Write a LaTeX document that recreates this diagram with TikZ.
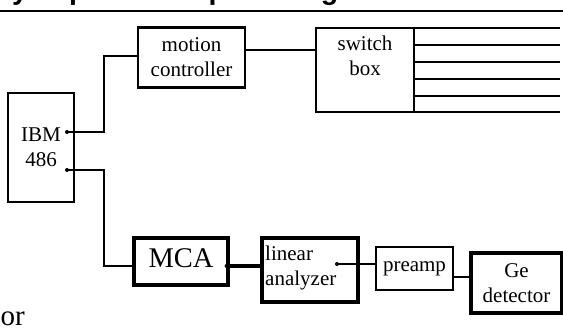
\documentclass[tikz,border=0pt]{standalone}
\usepackage{fontspec}
\setmainfont{Liberation Serif}
\setsansfont{Liberation Sans}

\begin{document}
\begin{tikzpicture}[x=1pt, y=-1pt,
		box_style/.style={draw=black,line width=2.2pt,inner sep=0pt,align=center,font=\fontsize{21}{25}\selectfont},
		heavy_style/.style={box_style,line width=3.2pt},
		text_style/.style={inner sep=0pt,align=center,font=\fontsize{21}{25}\selectfont},
		edge_style/.style={draw=black,line width=2.2pt},
		dot_style/.style={circle,fill=black,inner sep=0pt,minimum size=4pt}]

		\useasboundingbox (0,0) rectangle (563,328);
		\clip (0,0) rectangle (563,328);

		\node[anchor=base west,inner sep=0pt,font=\sffamily\bfseries\fontsize{28.5}{30}\selectfont] (head) at (12,-0.5) {y important in providing feedback to the};
		\draw[line width=2.2pt] (0,11) -- (563,11);

		\node[box_style, minimum width=66pt, minimum height=109pt] (ibm) at (41,147.5) {IBM\\486};
		\node[box_style, minimum width=107pt, minimum height=60pt] (motion) at (191.5,57.5) {motion\\controller};
		\node[box_style, minimum width=98pt, minimum height=84pt] (switch) at (365,70) {};
		\node[text_style] (switchtext) at (365,56) {switch\\box};
		\node[heavy_style, minimum width=94pt, minimum height=47pt, text depth=7pt, font=\fontsize{28.5}{30}\selectfont] (mca) at (181,261.5) {MCA};
		\node[heavy_style, minimum width=96pt, minimum height=64pt] (linear) at (310,270) {};
		\node[text_style, align=left, anchor=west] (lineartext) at (265,268) {linear\\analyzer};
		\node[box_style, line width=2.6pt, minimum width=77pt, minimum height=43pt] (preamp) at (414.5,268.5) {preamp};
		\node[heavy_style, minimum width=91pt, minimum height=60pt] (ge) at (516.5,283) {Ge\\detector};
		\node[anchor=base west,inner sep=0pt,font=\fontsize{29}{30}\selectfont] (ortext) at (0.5,326) {or};

		\coordinate (jog) at (104,0);
		\coordinate (ibmtop) at (67,132);
		\coordinate (ibmlow) at (67,170);
		\coordinate (motionin) at ([yshift=1.5pt]motion.west);
		\coordinate (motionout) at ([yshift=7.5pt]motion.east);
		\coordinate (mcain) at ([yshift=-4.5pt]mca.west);
		\coordinate (mcaout) at ([yshift=-4.5pt]mca.east);
		\coordinate (linout) at (337,264);
		\coordinate (preout) at ([yshift=-8.5pt]preamp.east);

		\draw[edge_style]  (ibmtop) -- (ibmtop -| jog) |- (motionin);
		\draw[edge_style]  (ibmlow) -- (ibmlow -| jog) |- (mcain);
		\draw[edge_style]  (motionout) -- (motionout -| switch.west);
		\draw[edge_style, line width=3.2pt]  ([xshift=-3pt]mcaout) -- (mcaout -| linear.west);
		\draw[edge_style, line width=2.8pt]  (linout) -- (linout -| preamp.west);
		\draw[edge_style]  (preout) -- (preout -| ge.west);

		\foreach \y in {28,45,62,79,96,112} {
			\coordinate (out\y) at (560,\y);
			\draw[edge_style]  (switch.east |- out\y) -- (out\y);
		}

		\node[dot_style] (dota) at (ibmtop) {};
		\node[dot_style] (dotb) at (ibmlow) {};
		\node[dot_style] (dotc) at ([xshift=-3pt]mcaout) {};
		\node[dot_style] (dotd) at (linout) {};

		\end{tikzpicture}
\end{document}
